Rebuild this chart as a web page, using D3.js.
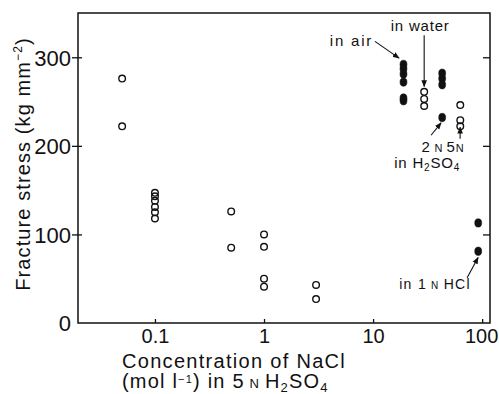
<!DOCTYPE html>
<html>
<head>
<meta charset="utf-8">
<script src="https://cdn.jsdelivr.net/npm/d3@7"></script>
<style>
  body { margin: 0; background: #fff; }
  text { font-family: "Liberation Sans", Arial, sans-serif; fill: #111; }
</style>
</head>
<body>
<div id="chart"></div>
<script>
const width = 499, height = 394
const margin = { top: 13, right: 9, bottom: 71, left: 78 }

// open circles, NaCl in 5N H2SO4
const openConc = [0.05, 0.05, 0.1, 0.1, 0.1, 0.1, 0.1, 0.1, 0.5, 0.5, 1, 1, 1, 1, 3, 3]
const openStress = [276, 222, 147, 143, 138, 131, 125, 118, 126, 85, 100, 86, 50, 41, 43, 27]

// other environments
const airConc = 19, airStress = [292, 287, 281, 272, 254, 251]           // filled
const waterConc = 29.4, waterStress = [261, 253, 245]                     // open
const h2so4Conc = 43, h2so4Stress = [282, 276, 269, 232]                   // filled (2N)
const h2so45Conc = 63, h2so45Stress = [246, 229, 222]                      // open (5N)
const hclConc = 92, hclStress = [113, 81]                                  // filled

const yTicks = [0, 100, 200, 300]
const xTicks = [0.1, 1, 10, 100]
const xTickLabels = ["0.1", "1", "10", "100"]

const svg = d3.select("#chart").append("svg")
  .attr("width", width)
  .attr("height", height)

const x = d3.scaleLog()
  .domain([0.0197, 118])
  .range([margin.left, width - margin.right])

const y = d3.scaleLinear()
  .domain([0, 350])
  .range([height - margin.bottom, margin.top])

// frame
svg.append("rect")
  .attr("x", margin.left)
  .attr("y", margin.top)
  .attr("width", width - margin.left - margin.right)
  .attr("height", height - margin.top - margin.bottom)
  .attr("fill", "none")
  .attr("stroke", "#111")
  .attr("stroke-width", 1.5)

// left axis
const yAxis = svg.append("g")
  .attr("transform", `translate(${margin.left},0)`)
  .call(d3.axisLeft(y).tickValues(yTicks).tickSize(6).tickPadding(1))
yAxis.select(".domain").remove()
yAxis.selectAll(".tick line").attr("x1", 4).attr("stroke", "#111").attr("stroke-width", 1.3)
yAxis.selectAll(".tick text").style("font-size", "22px").attr("dy", "0.36em")
yAxis.selectAll(".tick").filter(d => d === 0).select("line").remove()

// right axis ticks
const yAxisR = svg.append("g")
  .attr("transform", `translate(${width - margin.right},0)`)
  .call(d3.axisLeft(y).tickValues([100, 200, 300]).tickSize(6).tickFormat(""))
yAxisR.select(".domain").remove()
yAxisR.selectAll(".tick line").attr("x2", -7).attr("stroke", "#111").attr("stroke-width", 1.3)

// bottom axis
const xAxis = svg.append("g")
  .attr("transform", `translate(0,${height - margin.bottom})`)
  .call(d3.axisBottom(x).tickValues(xTicks).tickSize(-4).tickPadding(6)
    .tickFormat((d, i) => xTickLabels[i]))
xAxis.select(".domain").remove()
xAxis.selectAll(".tick line").attr("stroke", "#111").attr("stroke-width", 1.3)
xAxis.selectAll(".tick text").style("font-size", "20px")
xAxis.selectAll(".tick").filter(d => d === 100).select("text").attr("dx", -1)

// axis titles
const yTitle = svg.append("text")
  .attr("transform", "translate(30,164) rotate(-90)")
  .attr("text-anchor", "middle")
  .style("font-size", "20px")
  .style("letter-spacing", "1.1px")
yTitle.append("tspan").text("Fracture stress  (kg mm")
yTitle.append("tspan").attr("dy", -8).style("font-size", "12px").text("−2")
yTitle.append("tspan").attr("dy", 8).text(")")

svg.append("text")
  .attr("x", 122).attr("y", 368)
  .style("font-size", "20px")
  .style("letter-spacing", "1.3px")
  .text("Concentration of  NaCl")

const xt2 = svg.append("text")
  .attr("x", 122).attr("y", 388)
  .style("font-size", "20px")
  .style("letter-spacing", "1.2px")
xt2.append("tspan").text("(mol l")
xt2.append("tspan").attr("dy", -5).style("font-size", "11px").text("−1")
xt2.append("tspan").attr("dy", 5).text(") in  5")
xt2.append("tspan").style("font-size", "13px").text(" N ")
xt2.append("tspan").text("H")
xt2.append("tspan").attr("dy", 4).style("font-size", "13px").text("2")
xt2.append("tspan").attr("dy", -4).text("SO")
xt2.append("tspan").attr("dy", 4).style("font-size", "13px").text("4")

// points
function addPoints(conc, stress, filled) {
  const pts = stress.map((s, i) => ({ c: Array.isArray(conc) ? conc[i] : conc, s: s }))
  svg.append("g").selectAll("ellipse")
    .data(pts)
    .join("ellipse")
    .attr("cx", d => x(d.c))
    .attr("cy", d => y(d.s))
    .attr("rx", filled ? 3.5 : 3.3)
    .attr("ry", filled ? 4.2 : 3.3)
    .attr("fill", filled ? "#111" : "none")
    .attr("stroke", "#111")
    .attr("stroke-width", filled ? 0.5 : 1.4)
}
addPoints(openConc, openStress, false)
addPoints(airConc, airStress, true)
addPoints(waterConc, waterStress, false)
addPoints(h2so4Conc, h2so4Stress, true)
addPoints(h2so45Conc, h2so45Stress, false)
addPoints(hclConc, hclStress, true)

// annotations
svg.append("defs").append("marker")
  .attr("id", "arr")
  .attr("viewBox", "0 0 10 10")
  .attr("refX", 9).attr("refY", 5)
  .attr("markerWidth", 7).attr("markerHeight", 7)
  .attr("markerUnits", "userSpaceOnUse")
  .attr("orient", "auto")
  .append("path").attr("d", "M0,1 L10,5 L0,9 z").attr("fill", "#111")

const arrows = [
  { from: [10.4, 318], to: [17.3, 299] },
  { from: [29.4, 325], to: [29.4, 267] },
  { from: [34, 212], to: [42, 226] },
  { from: [62.8, 208], to: [62.8, 221] },
  { from: [72.8, 51], to: [91.8, 74] }
]
svg.append("g").selectAll("line")
  .data(arrows)
  .join("line")
  .attr("x1", d => x(d.from[0])).attr("y1", d => y(d.from[1]))
  .attr("x2", d => x(d.to[0])).attr("y2", d => y(d.to[1]))
  .attr("stroke", "#111")
  .attr("stroke-width", 1.1)
  .attr("marker-end", "url(#arr)")

function note(c, s, anchor) {
  return svg.append("text")
    .attr("x", x(c)).attr("y", y(s))
    .attr("text-anchor", anchor)
    .style("font-size", "15px")
    .style("letter-spacing", "0.8px")
}
note(10, 312.5, "end").style("letter-spacing", "1.8px").text("in air")
note(27, 329.5, "middle").text("in water")
const n2 = note(35, 193, "middle")
n2.append("tspan").text("2")
n2.append("tspan").style("font-size", "11px").text(" N")
const n5 = note(57, 193, "middle")
n5.append("tspan").text("5")
n5.append("tspan").style("font-size", "11px").text("N")
const nh = note(31.3, 175, "middle")
nh.append("tspan").text("in H")
nh.append("tspan").attr("dy", 3).style("font-size", "10px").text("2")
nh.append("tspan").attr("dy", -3).text("SO")
nh.append("tspan").attr("dy", 3).style("font-size", "10px").text("4")
const nc = note(37, 38, "middle").style("font-size", "14px").style("letter-spacing", "1.3px")
nc.append("tspan").text("in 1")
nc.append("tspan").style("font-size", "10px").text(" N ")
nc.append("tspan").text("HCl")
</script>
</body>
</html>
